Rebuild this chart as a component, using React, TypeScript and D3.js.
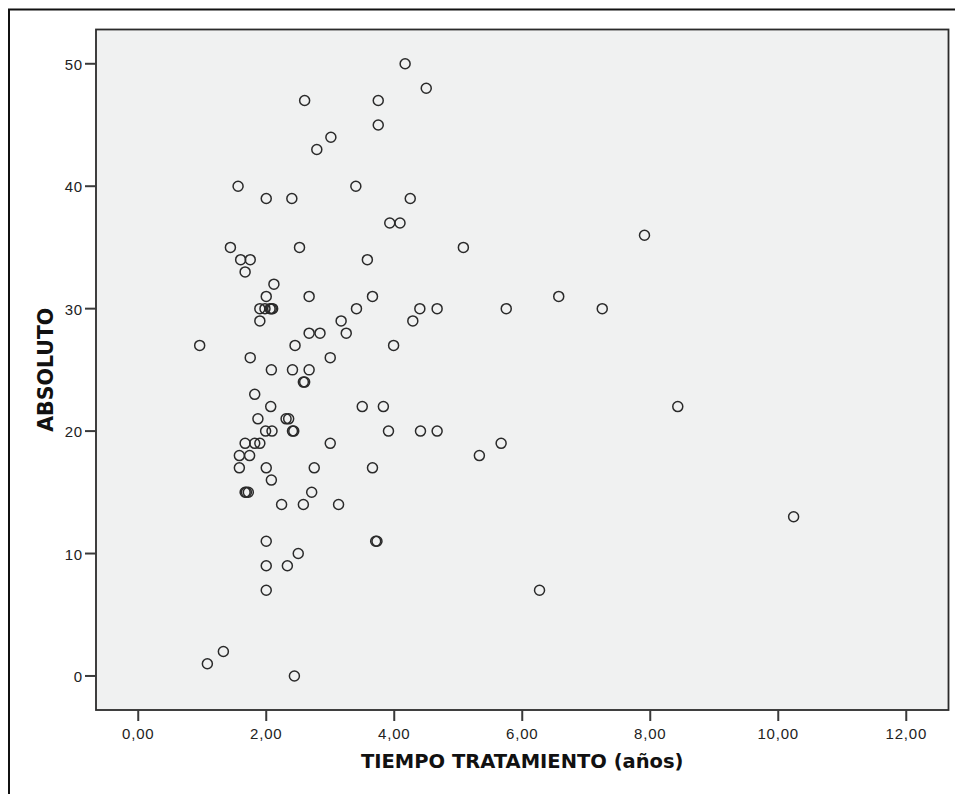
import React from "react";
import * as d3 from "d3";

const tiempo: number[] = [
  4.17, 4.5, 2.6, 3.75, 3.75, 3.01, 2.79, 1.56, 3.4, 2.0,
  2.4, 4.25, 3.93, 4.09, 7.91, 1.44, 2.52, 5.08, 1.6, 1.75,
  3.58, 1.67, 2.12, 2.0, 2.67, 3.66, 6.57, 1.9, 1.98, 2.06,
  2.1, 2.08, 3.41, 4.4, 4.67, 5.75, 7.25, 1.9, 3.17, 4.29,
  2.67, 2.84, 3.25, 0.96, 2.45, 3.99, 1.75, 3.0, 2.08, 2.41,
  2.67, 2.58, 2.6, 1.82, 2.07, 3.5, 3.83, 8.43, 1.87, 2.31,
  2.35, 1.99, 2.09, 2.41, 2.43, 3.91, 4.41, 4.67, 1.67, 1.82,
  1.9, 3.0, 5.67, 1.58, 1.74, 5.33, 1.58, 2.0, 2.75, 3.66,
  2.08, 1.67, 1.69, 1.72, 2.71, 2.24, 2.58, 3.13, 10.24, 2.0,
  3.71, 3.73, 2.5, 2.0, 2.33, 2.0, 6.27, 1.33, 1.08, 2.44,
];

const absoluto: number[] = [
  50, 48, 47, 47, 45, 44, 43, 40, 40, 39,
  39, 39, 37, 37, 36, 35, 35, 35, 34, 34,
  34, 33, 32, 31, 31, 31, 31, 30, 30, 30,
  30, 30, 30, 30, 30, 30, 30, 29, 29, 29,
  28, 28, 28, 27, 27, 27, 26, 26, 25, 25,
  25, 24, 24, 23, 22, 22, 22, 22, 21, 21,
  21, 20, 20, 20, 20, 20, 20, 20, 19, 19,
  19, 19, 19, 18, 18, 18, 17, 17, 17, 17,
  16, 15, 15, 15, 15, 14, 14, 14, 13, 11,
  11, 11, 10, 9, 9, 7, 7, 2, 1, 0,
];

const xTicks: number[] = [0, 2, 4, 6, 8, 10, 12];
const yTicks: number[] = [0, 10, 20, 30, 40, 50];
const xTitle = "TIEMPO TRATAMIENTO (años)";
const yTitle = "ABSOLUTO";

export default function App() {
  const W = 955;
  const H = 794;
  const left = 96;
  const right = 948.5;
  const top = 29.5;
  const bottom = 710;

  const x = d3.scaleLinear().domain([-0.66, 12.66]).range([left, right]);
  const y = d3.scaleLinear().domain([-2.78, 52.8]).range([bottom, top]);
  const fmt = (v: number) => v.toFixed(2).replace(".", ",");

  const font = "'DejaVu Sans', 'Liberation Sans', Arial, sans-serif";
  const tickFont = "'Liberation Sans', Arial, sans-serif";

  return (
    <svg
      width={W}
      height={H}
      style={{ position: "absolute", left: 0, top: 0, background: "#fff" }}
    >
      <rect x={9} y={9.5} width={1000} height={1000} fill="#fff" stroke="#111" strokeWidth={2} />
      <rect
        x={left}
        y={top}
        width={right - left}
        height={bottom - top}
        fill="#f0f1f1"
        stroke="#2b2b2b"
        strokeWidth={1.8}
      />
      {xTicks.map((t) => (
        <g key={"x" + t}>
          <line x1={x(t)} x2={x(t)} y1={bottom} y2={bottom + 11} stroke="#3a3a3a" strokeWidth={2} />
          <text
            x={x(t)}
            y={739}
            textAnchor="middle"
            fontFamily={tickFont}
            fontSize={15}
            letterSpacing={0.8}
            fill="#222"
          >
            {fmt(t)}
          </text>
        </g>
      ))}
      {yTicks.map((t) => (
        <g key={"y" + t}>
          <line x1={left - 11} x2={left} y1={y(t)} y2={y(t)} stroke="#3a3a3a" strokeWidth={2} />
          <text
            x={83}
            y={y(t)}
            dy="0.4em"
            textAnchor="end"
            fontFamily={tickFont}
            fontSize={15}
            letterSpacing={0.8}
            fill="#222"
          >
            {t}
          </text>
        </g>
      ))}
      {tiempo.map((v, i) => (
        <circle
          key={i}
          cx={x(v)}
          cy={y(absoluto[i])}
          r={5}
          fill="none"
          stroke="#2a2a2a"
          strokeWidth={1.5}
        />
      ))}
      <text
        x={(left + right) / 2}
        y={768}
        textAnchor="middle"
        fontFamily={font}
        fontWeight="bold"
        fontSize={19.5}
        fill="#111"
      >
        {xTitle}
      </text>
      <text
        transform={`translate(53, ${(top + bottom) / 2}) rotate(-90)`}
        textAnchor="middle"
        fontFamily={font}
        fontWeight="bold"
        fontSize={20.5}
        fill="#111"
      >
        {yTitle}
      </text>
    </svg>
  );
}
